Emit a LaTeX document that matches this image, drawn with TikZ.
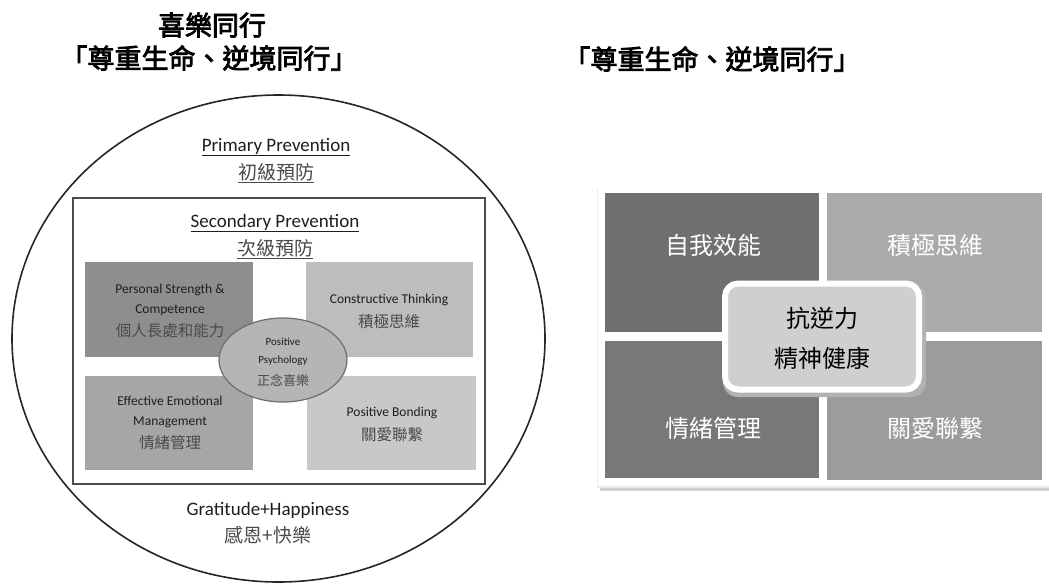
\documentclass[tikz,border=0pt]{standalone}
\usepackage{fontspec}
\usetikzlibrary{shapes.geometric}
\setmainfont{Carlito}
\newfontfamily\cjk{Noto Sans CJK TC}
\newfontfamily\cjkb[FakeBold=3]{Noto Sans CJK TC}
\definecolor{tlL}{HTML}{8E8E8E}
\definecolor{trL}{HTML}{BDBDBD}
\definecolor{blL}{HTML}{A6A6A6}
\definecolor{brL}{HTML}{C8C8C8}
\definecolor{ellF}{HTML}{B5B5B5}
\definecolor{ellD}{HTML}{6E6E6E}
\definecolor{tlR}{HTML}{707070}
\definecolor{trR}{HTML}{AAAAAA}
\definecolor{blR}{HTML}{787878}
\definecolor{brR}{HTML}{9C9C9C}
\definecolor{ctrR}{HTML}{CFCFCF}
\definecolor{txtD}{HTML}{1E1E1E}
\definecolor{txtC}{HTML}{4A4A4A}
\tikzset{
  title/.style={font=\cjkb\fontsize{27}{30}\selectfont, inner sep=0pt},
  head/.style={font=\fontsize{19}{22}\selectfont, text=txtD, inner sep=0pt},
  headc/.style={font=\cjk\fontsize{19}{22}\selectfont, text=txtC, inner sep=0pt},
  btxt/.style={font=\fontsize{13.5}{20.5}\selectfont, text=txtD, align=center, inner sep=0pt},
  btxc/.style={font=\cjk\fontsize{15.5}{18}\selectfont, text=txtC, inner sep=0pt},
  qtxt/.style={font=\cjk\fontsize{24}{28}\selectfont, text=white, inner sep=0pt},
}
\begin{document}
\begin{tikzpicture}[x=1pt,y=-1pt]
\useasboundingbox (0,0) rectangle (1049,584);
\fill[white] (0,0) rectangle (1049,584);
% ---- titles
\node[title] (t1) at (212,25) {喜樂同行};
\node[title] (t2) at (209,58) {「尊重生命、逆境同行」};
\node[title] (t3) at (712,59) {「尊重生命、逆境同行」};
% ---- left: circle
\draw[line width=1.6pt, black!85] (278.5,338.5) ellipse [x radius=266.5, y radius=243.5];
\node[head] (pp) at (276,147) {\underline{Primary Prevention}};
\node[headc] (ppc) at (276,173) {\underline{初級預防}};
\draw[line width=1.4pt, black!70] (73,198) rectangle (485,484);
\node[head] (sp) at (275,223) {\underline{Secondary Prevention}};
\node[headc] (spc) at (275,249) {\underline{次級預防}};
% quadrants
\fill[tlL] (85,262) rectangle (253,357);
\fill[trL] (306,262) rectangle (473,357);
\fill[blL] (85,376) rectangle (253,470);
\fill[brL] (307,376) rectangle (476,470);
\node[btxt] (q1) at (170,300) {Personal Strength \&\\Competence};
\node[btxc] (q1c) at (170,331) {個人長處和能力};
\node[btxt] (q2) at (389,300) {Constructive Thinking};
\node[btxc] (q2c) at (389,322) {積極思維};
\node[btxt] (q3) at (170,412) {Effective Emotional\\Management};
\node[btxc] (q3c) at (170,443) {情緒管理};
\node[btxt] (q4) at (392,413) {Positive Bonding};
\node[btxc] (q4c) at (392,435) {關愛聯繫};
\node[ellipse, fill=ellF, draw=ellD, line width=1.2pt, minimum width=128pt, minimum height=84pt] (pe) at (283,360) {};
\node[font=\fontsize{11}{18}\selectfont, text=txtD, align=center, inner sep=0pt] (pet) at (283,352) {Positive\\Psychology};
\node[font=\cjk\fontsize{13}{15}\selectfont, text=txtC, inner sep=0pt] (petc) at (283,380) {正念喜樂};
\node[head] (gh) at (268,510) {Gratitude+Happiness};
\node[headc] (ghc) at (268,535) {感恩+快樂};
% ---- right panel
\fill[black!18] (600,192) rectangle (1049,491);
\fill[black!8] (597,189) rectangle (1049,488);
\fill[white] (598,189) rectangle (1049,486);
\fill[tlR] (605,193) rectangle (819,332);
\fill[trR] (827,193) rectangle (1042,332);
\fill[blR] (605,341) rectangle (819,478);
\fill[brR] (827,341) rectangle (1042,480);
\node[qtxt] (r1) at (713,245) {自我效能};
\node[qtxt] (r2) at (935,245) {積極思維};
\node[qtxt] (r3) at (713,428) {情緒管理};
\node[qtxt] (r4) at (935,428) {關愛聯繫};
\fill[black!30, rounded corners=15pt] (723,283) rectangle (926,397);
\node[draw=white, line width=6pt, fill=ctrR, rounded corners=13pt, minimum width=194pt, minimum height=106pt] (ctr) at (822,336.5) {};
\node[font=\cjk\fontsize{24}{28}\selectfont, inner sep=0pt] (c1) at (822,318) {抗逆力};
\node[font=\cjk\fontsize{24}{28}\selectfont, inner sep=0pt] (c2) at (822,358) {精神健康};
\end{tikzpicture}
\end{document}
